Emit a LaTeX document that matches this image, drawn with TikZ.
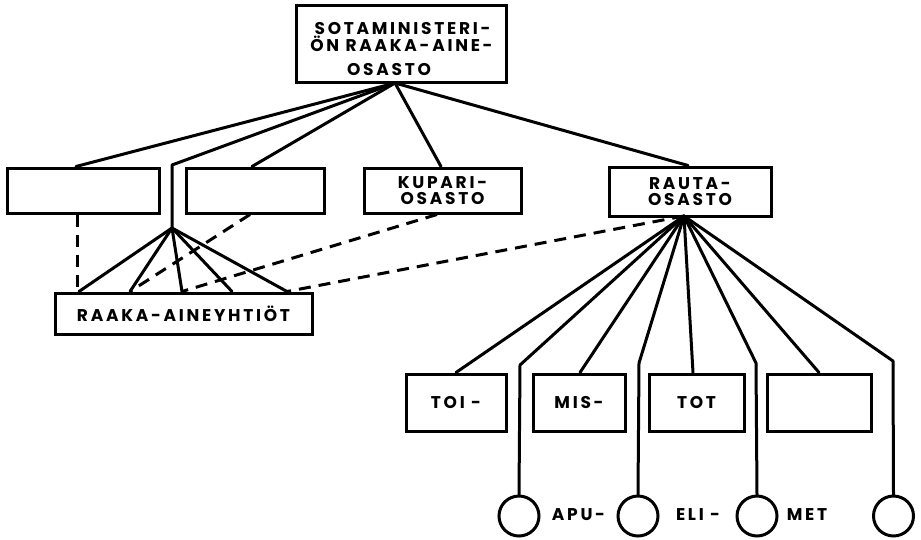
\documentclass[tikz,border=0pt]{standalone}
\usepackage{fontspec}
\newfontfamily\labfont{Poppins}[LetterSpace=16]
\usetikzlibrary{calc}
\tikzset{
  ln/.style={line width=3pt, line join=round, line cap=round},
  dsh/.style={line width=3pt, dash pattern=on 12pt off 8pt},
  box/.style={draw, line width=3pt, rectangle, inner sep=0pt, align=center,
    font=\labfont\bfseries\fontsize{17}{15.5}\selectfont},
  circ/.style={draw, line width=3pt, circle, inner sep=0pt, minimum size=40pt},
  lbl/.style={inner sep=0pt, font=\labfont\bfseries\fontsize{17}{15.5}\selectfont}
}
\begin{document}
\begin{tikzpicture}[x=1pt,y=-1pt]
\useasboundingbox (0,0) rectangle (921,539);
% boxes
\node[box, minimum width=210pt, minimum height=77pt] (top) at (401,43.5) {};
\node[lbl, anchor=base] (t1) at (402.5,34) {SOTAMINISTERI-};
\node[lbl, anchor=base] (t2) at (401.5,51) {ÖN RAAKA-AINE-};
\node[lbl, anchor=base] (t3) at (389,75) {OSASTO};
\node[box, minimum width=152pt, minimum height=45pt] (b1) at (83,190.5) {};
\node[box, minimum width=138pt, minimum height=45pt] (b2) at (255,190.5) {};
\node[box, minimum width=157pt, minimum height=45pt] (kup) at (442.5,190.5) {KUPARI-\\OSASTO};
\node[box, minimum width=162pt, minimum height=49pt] (rau) at (690,191.5) {RAUTA-\\OSASTO};
\node[box, minimum width=257pt, minimum height=41pt] (raaka) at (183.5,313.5) {RAAKA-AINEYHTIÖT};
\node[box, minimum width=100pt, minimum height=57pt] (toi) at (456,402.5) {TOI -};
\node[box, minimum width=92pt, minimum height=57pt] (mis) at (579,402.5) {MIS-};
\node[box, minimum width=95pt, minimum height=57pt] (tot) at (696.5,402.5) {TOT};
\node[box, minimum width=104pt, minimum height=57pt] (blank) at (819,402.5) {};
% circles
\node[circ] (c1) at (519,516) {};
\node[circ] (c2) at (638,516) {};
\node[circ] (c3) at (757,516) {};
\node[circ] (c4) at (893.5,516) {};
\node[lbl] (apu) at (578.5,515) {APU-};
\node[lbl] (eli) at (698,515) {ELI -};
\node[lbl] (met) at (807,515) {MET};
% junction points
\coordinate (tj) at (395,83);
\coordinate (fj) at (172,228);
\coordinate (fk) at (172,165);
\coordinate (rj) at (684,216);
\coordinate (k1) at (520,365);
\coordinate (k2) at (639,363);
\coordinate (k3) at (756,363);
\coordinate (k4) at (893,361);
% top connectors
\draw[ln] (tj) -- ([xshift=-7pt]b1.north);
\draw[ln] (tj) -- (fk) -- (fj);
\draw[ln] (tj) -- ([xshift=-3pt]b2.north);
\draw[ln] (tj) -- ([xshift=-1.5pt]kup.north);
\draw[ln] (tj) -- ([xshift=-2pt]rau.north);
% fan to raaka
\foreach \dx in {-104.5,-53.5,-1.5,48.5,103.5}
  \draw[ln] (fj) -- ([xshift=\dx pt]raaka.north);
% dashed
\draw[dsh] ([xshift=-6pt]b1.south) -- ([xshift=-106.5pt]raaka.north);
\draw[dsh] ([xshift=-5pt]b2.south) -- ([xshift=-53.5pt]raaka.north);
\draw[dsh] ([xshift=-5.5pt]kup.south) -- ([xshift=-1.5pt]raaka.north);
\draw[dsh] (rj) -- ([xshift=103.5pt]raaka.north);
% rauta fan
\draw[ln] (rj) -- (toi.north);
\draw[ln] (rj) -- ([xshift=1pt]mis.north);
\draw[ln] (rj) -- ([xshift=-3.5pt]tot.north);
\draw[ln] (rj) -- (blank.north);
\draw[ln] (rj) -- (k1) -- (c1.north);
\draw[ln] (rj) -- (k2) -- (c2.north);
\draw[ln] (rj) -- (k3) -- (c3.north);
\draw[ln] (rj) -- (k4) -- (c4.north);
\end{tikzpicture}
\end{document}
